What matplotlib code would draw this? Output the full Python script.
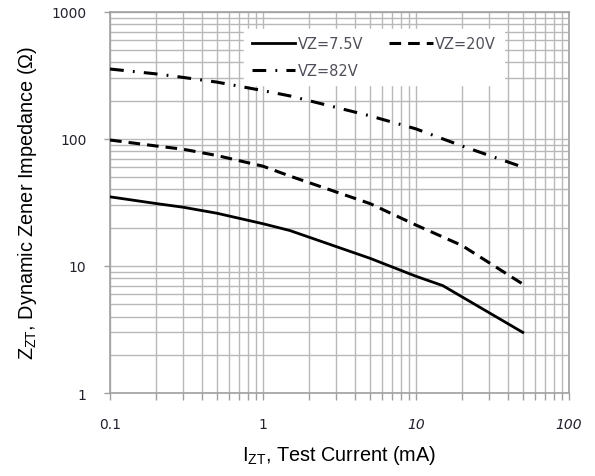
"""
Dynamic zener impedance vs test current, log-log, three zener voltages.
"""
import matplotlib
matplotlib.use('Agg')
import matplotlib.pyplot as plt
from matplotlib.ticker import LogLocator, NullFormatter

# data
i_75 = [0.1, 0.2, 0.3, 0.5, 1, 1.5, 5, 10, 15, 50]
z_75 = [35, 31, 29, 26, 21.5, 19, 11.5, 8.3, 7.0, 3.0]

i_20 = [0.1, 0.2, 0.3, 0.5, 1, 1.5, 5, 10, 20, 50]
z_20 = [98, 88, 83, 74, 61, 51, 31, 21, 14.5, 7.2]

i_82 = [0.1, 0.2, 0.3, 0.5, 1, 1.5, 5, 10, 20, 50]
z_82 = [355, 325, 305, 280, 240, 218, 152, 120, 88, 60]

xticks = [0.1, 1, 10, 100]
xticklabels = ['0.1', '1', '10', '100']
yticks = [1, 10, 100, 1000]
yticklabels = ['1', '10', '100', '1000']

plt.rcParams['mathtext.default'] = 'regular'

fig = plt.figure(figsize=(5.95, 4.77), dpi=100)
ax = fig.add_axes([0.185, 0.174, 0.771, 0.799])

ax.set_xscale('log')
ax.set_yscale('log')
ax.set_xlim(0.1, 100)
ax.set_ylim(1, 1000)

gridc = '#b8b8b8'
ax.xaxis.set_minor_locator(LogLocator(base=10, subs=range(2, 10)))
ax.yaxis.set_minor_locator(LogLocator(base=10, subs=range(2, 10)))
ax.xaxis.set_minor_formatter(NullFormatter())
ax.yaxis.set_minor_formatter(NullFormatter())
ax.grid(True, which='both', color=gridc, linewidth=1.0)
ax.set_axisbelow(True)

for s in ax.spines.values():
    s.set_color('#a0a0a0')
    s.set_linewidth(1.2)

ax.tick_params(which='both', direction='out', color='#a0a0a0', width=1,
               top=False, right=False)
ax.tick_params(axis='x', which='major', length=5, pad=12)
ax.tick_params(axis='x', which='minor', length=5)
ax.tick_params(axis='y', which='major', length=4, pad=13)
ax.tick_params(axis='y', which='minor', length=0)

tickfont = dict(fontsize=10, color='#22222f', family='DejaVu Sans')
ax.set_xticks(xticks)
ax.set_xticklabels(xticklabels, **tickfont)
ax.set_yticks(yticks)
ax.set_yticklabels(yticklabels, **tickfont)
for lab in ax.get_xticklabels():
    if lab.get_text() in ('10', '100'):
        lab.set_style('italic')

l1, = ax.plot(i_75, z_75, color='black', lw=2.0, ls='-', label='VZ=7.5V', zorder=3)
l2, = ax.plot(i_20, z_20, color='black', lw=2.2, ls=(0, (3.8, 2.3)), label='VZ=20V', zorder=3)
l3, = ax.plot(i_82, z_82, color='black', lw=2.2, ls=(0, (4.5, 3, 0.6, 3)), label='VZ=82V', zorder=3)

leg = ax.legend([l1, l3, l2], ['VZ=7.5V', 'VZ=82V', 'VZ=20V'], ncol=2,
                loc='upper left', bbox_to_anchor=(0.277, 0.975),
                frameon=True, framealpha=1, edgecolor='white', fancybox=False,
                handlelength=3.0, handletextpad=0.15,
                columnspacing=1.8, labelspacing=0.8, borderpad=0.5,
                prop={'family': 'DejaVu Sans', 'size': 10.5})
leg.set_zorder(2.5)
for t in leg.get_texts():
    t.set_color('#50505a')

ax.set_xlabel('I$_{ZT}$, Test Current (mA)', fontsize=14.3,
              family='Liberation Sans', labelpad=9)
ax.set_ylabel('Z$_{ZT}$, Dynamic Zener Impedance (Ω)', fontsize=14.3,
              family='Liberation Sans', labelpad=9)

fig.savefig('out.png', dpi=100, facecolor='white')
